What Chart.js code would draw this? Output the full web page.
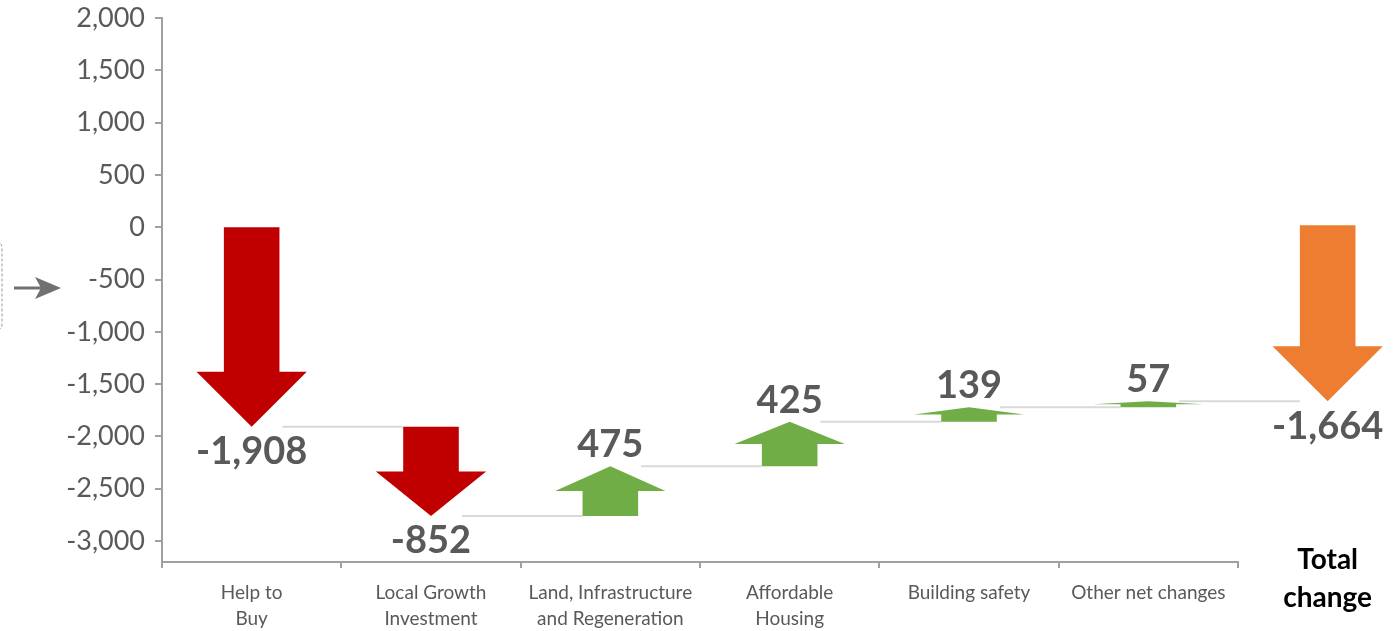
<!DOCTYPE html>
<html>
<head>
<meta charset="utf-8">
<script src="https://cdn.jsdelivr.net/npm/chart.js@4"></script>
<style>
  body { margin: 0; background: #fff; }
  canvas { display: block; }
</style>
</head>
<body>
<canvas id="waterfall" width="1396" height="631"></canvas>
<script>
const categories = [
    ['Help to', 'Buy'],
    ['Local Growth', 'Investment'],
    ['Land, Infrastructure', 'and Regeneration'],
    ['Affordable', 'Housing'],
    'Building safety',
    'Other net changes'
];
const changes = [-1908, -852, 475, 425, 139, 57];
const changeLabels = ['-1,908', '-852', '475', '425', '139', '57'];

const totalLabel = ['Total', 'change'];
const totalChange = -1664;
const totalText = '-1,664';

const yMin = -3200;
const yMax = 2000;
const yTickValues = [-3000, -2500, -2000, -1500, -1000, -500, 0, 500, 1000, 1500, 2000];

const RED = '#C00000';
const GREEN = '#70AD47';
const ORANGE = '#ED7D31';
const TEXT = '#595959';
const AXIS = '#a0a0a0';

// running start/end of every step
const steps = [];
let level = 0;
for (let i = 0; i < changes.length; i++) {
    steps.push([level, level + changes[i]]);
    level += changes[i];
}

function drawArrow(ctx, cx, yFrom, yTo, shaftW, headW, color) {
    const len = Math.abs(yTo - yFrom);
    const dir = yTo > yFrom ? 1 : -1; // 1 = pointing down on screen
    const headLen = 0.5 * Math.min(headW, len);
    const baseY = yTo - dir * headLen;
    ctx.beginPath();
    ctx.moveTo(cx - shaftW / 2, yFrom);
    ctx.lineTo(cx + shaftW / 2, yFrom);
    ctx.lineTo(cx + shaftW / 2, baseY);
    ctx.lineTo(cx + headW / 2, baseY);
    ctx.lineTo(cx, yTo);
    ctx.lineTo(cx - headW / 2, baseY);
    ctx.lineTo(cx - shaftW / 2, baseY);
    ctx.closePath();
    ctx.fillStyle = color;
    ctx.fill();
}

const arrowPlugin = {
    id: 'arrows',
    afterDatasetsDraw(chart) {
        const ctx = chart.ctx;
        const x = chart.scales.x;
        const y = chart.scales.y;
        const catW = x.width / categories.length;
        const shaftW = catW * 0.31;
        const headW = catW * 0.615;

        ctx.save();
        // connectors
        ctx.strokeStyle = '#d9d9d9';
        ctx.lineWidth = 2;
        for (let i = 0; i < steps.length; i++) {
            const yy = y.getPixelForValue(steps[i][1]);
            const x1 = x.getPixelForValue(i) + shaftW / 2 + 3;
            const x2 = x.getPixelForValue(i + 1) - shaftW / 2;
            ctx.beginPath();
            ctx.moveTo(x1, yy);
            ctx.lineTo(x2, yy);
            ctx.stroke();
        }

        // arrows
        ctx.font = 'bold 38px Lato';
        ctx.textAlign = 'center';
        for (let i = 0; i < steps.length; i++) {
            const cx = x.getPixelForValue(i);
            const y0 = y.getPixelForValue(steps[i][0]);
            const y1 = y.getPixelForValue(steps[i][1]);
            drawArrow(ctx, cx, y0, y1, shaftW, headW, changes[i] < 0 ? RED : GREEN);
            ctx.fillStyle = TEXT;
            if (changes[i] < 0) {
                ctx.textBaseline = 'top';
                ctx.fillText(changeLabels[i], cx, y1 + 6);
            } else {
                ctx.textBaseline = 'alphabetic';
                ctx.fillText(changeLabels[i], cx, y1 - 9);
            }
        }

        // total change, just past the axis end
        const tx = x.getPixelForValue(categories.length);
        const ty0 = y.getPixelForValue(0);
        const ty1 = y.getPixelForValue(totalChange);
        drawArrow(ctx, tx, ty0 - 2, ty1, shaftW, headW, ORANGE);
        ctx.fillStyle = TEXT;
        ctx.textBaseline = 'top';
        ctx.fillText(totalText, tx, ty1 + 6);

        ctx.fillStyle = '#000';
        ctx.font = 'bold 28px Lato';
        ctx.textBaseline = 'middle';
        ctx.fillText(totalLabel[0], tx, 560);
        ctx.fillText(totalLabel[1], tx, 598);

        // leftover pointer at the left edge
        ctx.strokeStyle = '#707070';
        ctx.fillStyle = '#707070';
        ctx.lineWidth = 3;
        ctx.beginPath();
        ctx.moveTo(14, 288);
        ctx.lineTo(48, 288);
        ctx.stroke();
        ctx.beginPath();
        ctx.moveTo(61, 288);
        ctx.lineTo(35, 277);
        ctx.lineTo(41, 288);
        ctx.lineTo(35, 299);
        ctx.closePath();
        ctx.fill();
        ctx.setLineDash([3, 2]);
        ctx.lineWidth = 1;
        ctx.strokeStyle = '#999';
        ctx.beginPath();
        ctx.moveTo(-4, 242);
        ctx.quadraticCurveTo(2, 242, 2, 248);
        ctx.lineTo(2, 324);
        ctx.quadraticCurveTo(2, 330, -4, 330);
        ctx.stroke();
        ctx.restore();
    }
};

new Chart(document.getElementById('waterfall'), {
    type: 'bar',
    data: {
        labels: categories,
        datasets: [{
            data: steps,
            backgroundColor: 'transparent',
            borderWidth: 0
        }]
    },
    options: {
        responsive: false,
        animation: false,
        layout: { padding: { top: 18, right: 158, left: 0, bottom: 0 } },
        plugins: {
            legend: { display: false },
            tooltip: { enabled: false }
        },
        scales: {
            x: {
                border: { color: AXIS, width: 2 },
                grid: { drawOnChartArea: false, color: AXIS, tickLength: 6, offset: true, lineWidth: 2 },
                ticks: {
                    color: TEXT,
                    maxRotation: 0,
                    autoSkip: false,
                    padding: 12,
                    font: { family: 'Lato', size: 19, lineHeight: 1.37 }
                },
                afterFit(scale) { scale.height = 69; }
            },
            y: {
                min: yMin,
                max: yMax,
                border: { color: AXIS, width: 2 },
                grid: { drawOnChartArea: false, color: AXIS, tickLength: 7, lineWidth: 2 },
                ticks: {
                    color: TEXT,
                    padding: 10,
                    font: { family: 'Lato', size: 27 },
                    callback: v => v.toLocaleString('en-US')
                },
                afterBuildTicks(scale) {
                    scale.ticks = yTickValues.map(v => ({ value: v }));
                },
                afterFit(scale) {
                    scale.width = 162;
                    scale.paddingTop = 0;
                    scale.paddingBottom = 0;
                }
            }
        }
    },
    plugins: [arrowPlugin]
});
</script>
</body>
</html>
